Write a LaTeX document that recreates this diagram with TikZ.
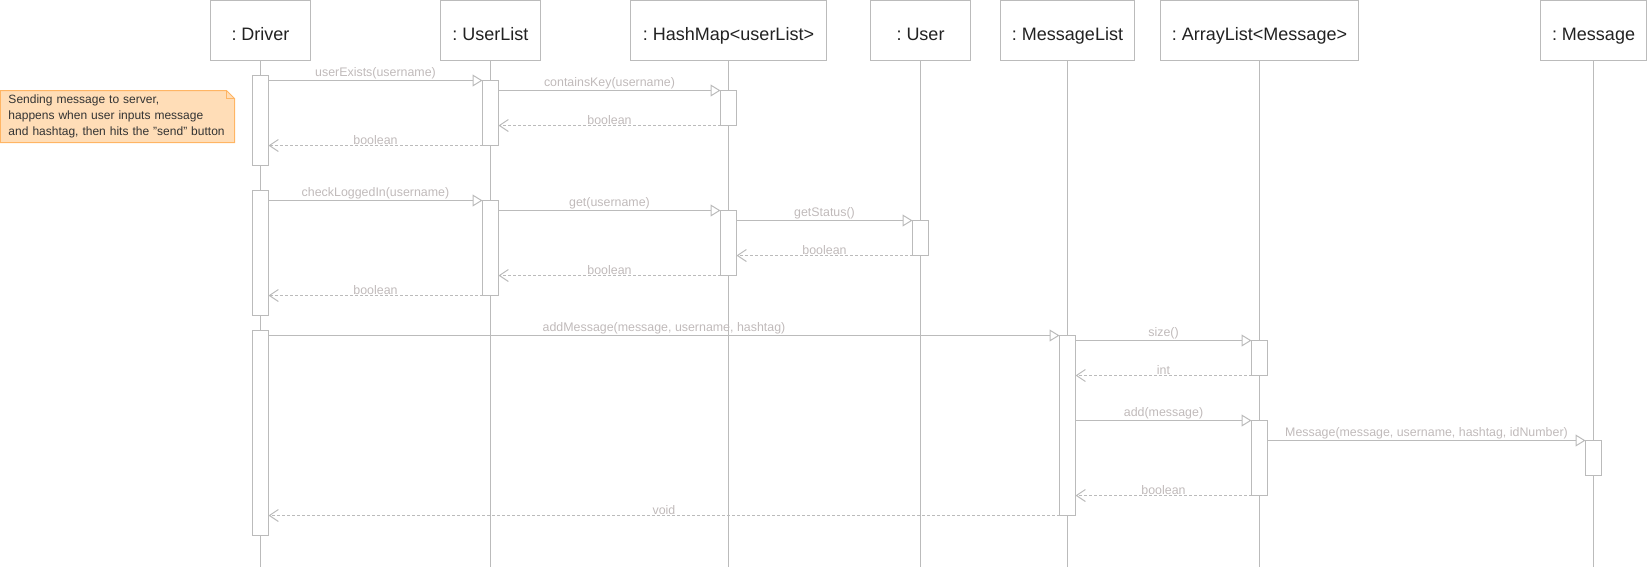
\documentclass[tikz,border=0pt]{standalone}
\usepackage{fontspec}
\setmainfont{Liberation Sans}
\usetikzlibrary{positioning}
\usetikzlibrary{arrows.meta}
\usetikzlibrary{backgrounds}

\definecolor{linegray}{RGB}{187,187,187}
\definecolor{labelgray}{RGB}{192,186,186}
\definecolor{headtext}{RGB}{34,34,34}
\definecolor{notefill}{RGB}{255,221,183}
\definecolor{noteline}{RGB}{255,181,100}
\definecolor{notetext}{RGB}{51,51,51}

\frenchspacing

\begin{document}
\begin{tikzpicture}[
        x=1pt, y=-1pt,
        head/.style={draw=linegray, line width=1pt, fill=white, minimum height=60pt, inner sep=0pt, outer sep=0pt, text height=20pt, text depth=0pt, text=headtext, font=\fontsize{18}{20}\selectfont},
        act/.style={draw=linegray, line width=1pt, fill=white, minimum width=16pt, inner sep=0pt, outer sep=0pt, anchor=north},
        lifeline/.style={draw=linegray, line width=1pt},
        call/.style={draw=linegray, line width=1pt, -{Triangle[open, length=10pt, width=12pt]}},
        reply/.style={draw=linegray, line width=1pt, dash pattern=on 3pt off 2pt, -{Straight Barb[length=9pt, width=12pt]}},
        msg/.style={above, inner sep=1pt, outer sep=0pt, text=labelgray, font=\fontsize{12.4}{14}\selectfont},
        notetext/.style={text width=218pt, inner xsep=8pt, inner ysep=0pt, outer sep=0pt, minimum height=52pt, align=left, text=notetext, font=\fontsize{12}{16}\selectfont},
        notebox/.style={draw=noteline, line width=1pt, fill=notefill}
    ]

        \useasboundingbox (-0.5,-0.5) rectangle (1647.5,565.5);

        % Object boxes
        \node [head, minimum width=100pt] (Driver) at (260,30) {: Driver};
        \node [head, minimum width=100pt] (UserList) at (490,30) {: UserList};
        \node [head, minimum width=196pt] (HashMap) at (728,30) {: HashMap<userList>};
        \node [head, minimum width=100pt] (User) at (920,30) {: User};
        \node [head, minimum width=134pt] (MessageList) at (1067,30) {: MessageList};
        \node [head, minimum width=198pt] (ArrayList) at (1259,30) {: ArrayList<Message>};
        \node [head, minimum width=106pt] (Message) at (1593,30) {: Message};

        % Lifelines
        \coordinate (Bottom) at (0,566);
        \foreach \obj in {Driver, UserList, HashMap, User, MessageList, ArrayList, Message}
            \draw [lifeline] (\obj.south) -- (\obj.south |- Bottom);

        % Note
        \node [notetext, anchor=north west] (Note) at (0,90) {Sending message to server,\\happens when user inputs message\\and hashtag, then hits the "send" button};
        \begin{scope}[on background layer]
            \draw [notebox] (Note.south west) -- (Note.north west) -- ([xshift=-8pt]Note.north east) -- ([yshift=-8pt]Note.north east) -- (Note.south east) -- cycle;
            \draw [notebox, fill=none] ([xshift=-8pt]Note.north east) |- ([yshift=-8pt]Note.north east);
        \end{scope}

        % Activations
        \node [act, minimum height=90pt] (DriverAct1) at (Driver.south |- 0,75) {};
        \node [act, minimum height=125pt] (DriverAct2) at (Driver.south |- 0,190) {};
        \node [act, minimum height=205pt] (DriverAct3) at (Driver.south |- 0,330) {};
        \node [act, minimum height=65pt] (UserListAct1) at (UserList.south |- 0,80) {};
        \node [act, minimum height=95pt] (UserListAct2) at (UserList.south |- 0,200) {};
        \node [act, minimum height=35pt] (HashMapAct1) at (HashMap.south |- 0,90) {};
        \node [act, minimum height=65pt] (HashMapAct2) at (HashMap.south |- 0,210) {};
        \node [act, minimum height=35pt] (UserAct1) at (User.south |- 0,220) {};
        \node [act, minimum height=180pt] (MessageListAct1) at (MessageList.south |- 0,335) {};
        \node [act, minimum height=35pt] (ArrayListAct1) at (ArrayList.south |- 0,340) {};
        \node [act, minimum height=75pt] (ArrayListAct2) at (ArrayList.south |- 0,420) {};
        \node [act, minimum height=35pt] (MessageAct1) at (Message.south |- 0,440) {};

        % userExists
        \draw [call] (DriverAct1.east |- UserListAct1.north) -- node [msg] {userExists(username)} (UserListAct1.north west);
        \draw [call] (UserListAct1.east |- HashMapAct1.north) -- node [msg] {containsKey(username)} (HashMapAct1.north west);
        \draw [reply] (HashMapAct1.south west) -- node [msg] {boolean} (UserListAct1.east |- HashMapAct1.south);
        \draw [reply] (UserListAct1.south west) -- node [msg] {boolean} (DriverAct1.east |- UserListAct1.south);

        % checkLoggedIn
        \draw [call] (DriverAct2.east |- UserListAct2.north) -- node [msg] {checkLoggedIn(username)} (UserListAct2.north west);
        \draw [call] (UserListAct2.east |- HashMapAct2.north) -- node [msg] {get(username)} (HashMapAct2.north west);
        \draw [call] (HashMapAct2.east |- UserAct1.north) -- node [msg] {getStatus()} (UserAct1.north west);
        \draw [reply] (UserAct1.south west) -- node [msg] {boolean} (HashMapAct2.east |- UserAct1.south);
        \draw [reply] (HashMapAct2.south west) -- node [msg] {boolean} (UserListAct2.east |- HashMapAct2.south);
        \draw [reply] (UserListAct2.south west) -- node [msg] {boolean} (DriverAct2.east |- UserListAct2.south);

        % addMessage
        \draw [call] (DriverAct3.east |- MessageListAct1.north) -- node [msg] {addMessage(message, username, hashtag)} (MessageListAct1.north west);
        \draw [call] (MessageListAct1.east |- ArrayListAct1.north) -- node [msg] {size()} (ArrayListAct1.north west);
        \draw [reply] (ArrayListAct1.south west) -- node [msg] {int} (MessageListAct1.east |- ArrayListAct1.south);
        \draw [call] (MessageListAct1.east |- ArrayListAct2.north) -- node [msg] {add(message)} (ArrayListAct2.north west);
        \draw [call] (ArrayListAct2.east |- MessageAct1.north) -- node [msg] {Message(message, username, hashtag, idNumber)} (MessageAct1.north west);
        \draw [reply] (ArrayListAct2.south west) -- node [msg] {boolean} (MessageListAct1.east |- ArrayListAct2.south);
        \draw [reply] (MessageListAct1.south west) -- node [msg] {void} (DriverAct3.east |- MessageListAct1.south);

    \end{tikzpicture}
\end{document}
